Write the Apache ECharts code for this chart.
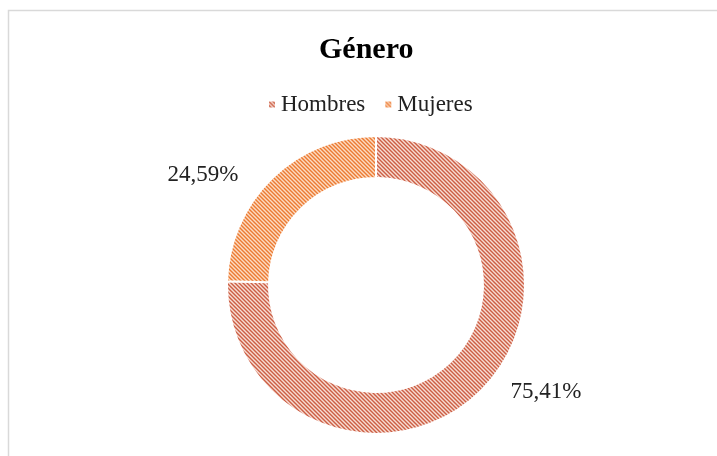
<!DOCTYPE html>
<html lang="es" style="height: 100%">
<head>
  <meta charset="utf-8">
</head>
<body style="height: 100%; margin: 0; background: #fff">
  <div id="container" style="height: 100%"></div>

  <script type="text/javascript" src="https://fastly.jsdelivr.net/npm/echarts@6/dist/echarts.min.js"></script>
  <script type="text/javascript">
    var categories = ['Hombres', 'Mujeres'];
    var values = [75.41, 24.59];
    var labels = ['75,41%', '24,59%'];

    // hatch pattern like the office "wide diagonal" fill
    function hatch(bg, fg) {
      var c = document.createElement('canvas');
      c.width = 4; c.height = 4;
      var ctx = c.getContext('2d');
      ctx.fillStyle = bg;
      ctx.fillRect(0, 0, 4, 4);
      ctx.strokeStyle = fg;
      ctx.lineWidth = 1.4;
      ctx.beginPath();
      ctx.moveTo(-1, -1); ctx.lineTo(5, 5);
      ctx.moveTo(-1, 3); ctx.lineTo(1, 5);
      ctx.moveTo(3, -1); ctx.lineTo(5, 1);
      ctx.stroke();
      return { image: c, repeat: 'repeat' };
    }
    var fills = [hatch('#f7ddd4', '#cc5e44'), hatch('#fcdcc3', '#ec7a32')];

    var dom = document.getElementById('container');
    var myChart = echarts.init(dom, null, { renderer: 'canvas' });

    var option = {
      animation: false,
      graphic: [{
        type: 'rect',
        shape: { x: 8.5, y: 10.5, width: 740, height: 480 },
        style: { fill: 'none', stroke: '#d9d9d9', lineWidth: 1.5 }
      }],
      title: {
        text: 'Género',
        left: 314,
        top: 30,
        textStyle: { fontFamily: 'Liberation Serif', fontSize: 30, fontWeight: 'bold', color: '#000' }
      },
      legend: {
        data: categories,
        top: 88,
        left: 262,
        itemWidth: 8,
        itemHeight: 8,
        itemGap: 18,
        icon: 'rect',
        textStyle: { fontFamily: 'Liberation Serif', fontSize: 23, color: '#222' }
      },
      series: [{
        type: 'pie',
        center: [376, 285],
        radius: [107, 149],
        startAngle: 90,
        clockwise: true,
        data: categories.map(function (n, i) {
          return { name: n, value: values[i], itemStyle: { color: fills[i] } };
        }),
        itemStyle: { borderColor: '#fff', borderWidth: 2 },
        label: {
          show: true,
          position: 'outside',
          formatter: function (p) { return labels[p.dataIndex]; },
          fontFamily: 'Liberation Serif',
          fontSize: 23,
          color: '#222'
        },
        labelLine: { show: false },
        labelLayout: function (p) {
          return p.dataIndex === 0
            ? { x: 546, y: 392, align: 'center', verticalAlign: 'middle' }
            : { x: 203, y: 175, align: 'center', verticalAlign: 'middle' };
        }
      }]
    };

    myChart.setOption(option);
    window.addEventListener('resize', myChart.resize);
  </script>
</body>
</html>
